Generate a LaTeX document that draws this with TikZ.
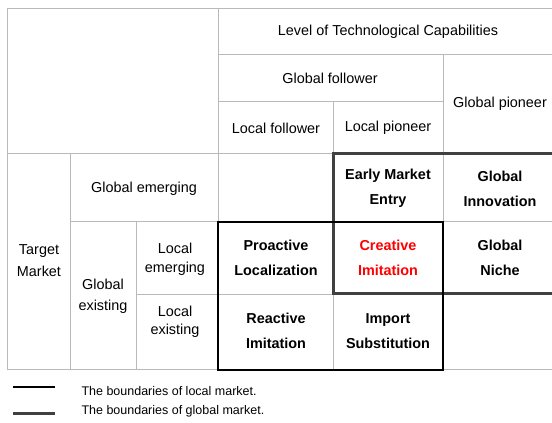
\documentclass[tikz,border=0pt]{standalone}
\usepackage{fontspec}
\setmainfont{Liberation Sans}
\usepackage{tikz}

\begin{document}
\begin{tikzpicture}[x=1pt,y=-1pt,
  thinline/.style={gray!55,line width=0.8pt},
  localb/.style={black,line width=2pt},
  globalb/.style={black!75,line width=3pt},
  lab/.style={align=center,font=\fontsize{14.4}{20}\selectfont},
  strat/.style={align=center,font=\fontsize{14.4}{25}\selectfont\bfseries},
  legend/.style={anchor=west,font=\fontsize{12.5}{15}\selectfont}]
  \useasboundingbox (0,0) rectangle (552,423);
  \clip (0,0) rectangle (552,423);
  %\draw[thin,gray!40] (0,0) grid (552,423);
  \draw[thinline] (7,8)--(558,8);
  \draw[thinline] (218,54)--(558,54);
  \draw[thinline] (218,101)--(443,101);
  \draw[thinline] (7,153)--(558,153);
  \draw[thinline] (70,221)--(558,221);
  \draw[thinline] (136,294)--(558,294);
  \draw[thinline] (7,369)--(558,369);
  \draw[thinline] (7,8)--(7,369);
  \draw[thinline] (70,153)--(70,369);
  \draw[thinline] (136,221)--(136,369);
  \draw[thinline] (218,8)--(218,369);
  \draw[thinline] (333,101)--(333,369);
  \draw[thinline] (443,54)--(443,369);
  \draw[globalb] (333,153) rectangle (560,293);
  \draw[localb] (218,222) rectangle (443,370);
  \node[lab] (level) at (388,32) {Level of Technological Capabilities};
  \node[lab] (gfollow) at (330,78) {Global follower};
  \node[lab] (gpion) at (500,104) {Global pioneer};
  \node[lab] (lfollow) at (276,128) {Local follower};
  \node[lab] (lpion) at (388,128) {Local pioneer};
  \node[lab,font=\fontsize{14.4}{22}\selectfont] (target) at (39,261) {Target\\Market};
  \node[lab] (gemerg) at (144,189) {Global emerging};
  \node[lab,font=\fontsize{14.4}{21}\selectfont] (gexist) at (103,296) {Global\\existing};
  \node[lab,font=\fontsize{14.4}{19}\selectfont] (lemerg) at (175,259) {Local\\emerging};
  \node[lab,font=\fontsize{14.4}{18}\selectfont] (lexist) at (175,322) {Local\\existing};
  \node[strat] (early) at (388,188) {Early Market\\Entry};
  \node[strat] (ginno) at (500,189) {Global\\Innovation};
  \node[strat] (proact) at (276,258) {Proactive\\Localization};
  \node[strat,red] (creat) at (388,258) {Creative\\Imitation};
  \node[strat] (gniche) at (500,258) {Global\\Niche};
  \node[strat] (react) at (276,331) {Reactive\\Imitation};
  \node[strat] (import) at (388,331) {Import\\Substitution};
  \coordinate (la) at (13,387);
  \coordinate (lb) at (55,387);
  \coordinate (ga) at (13,413);
  \coordinate (gb) at (55,413);
  \draw[localb] (la)--(lb);
  \draw[globalb] (ga)--(gb);
  \node[legend] (llocal) at (78,391) {The boundaries of local market.};
  \node[legend] (lglobal) at (78,411) {The boundaries of global market.};
\end{tikzpicture}
\end{document}
